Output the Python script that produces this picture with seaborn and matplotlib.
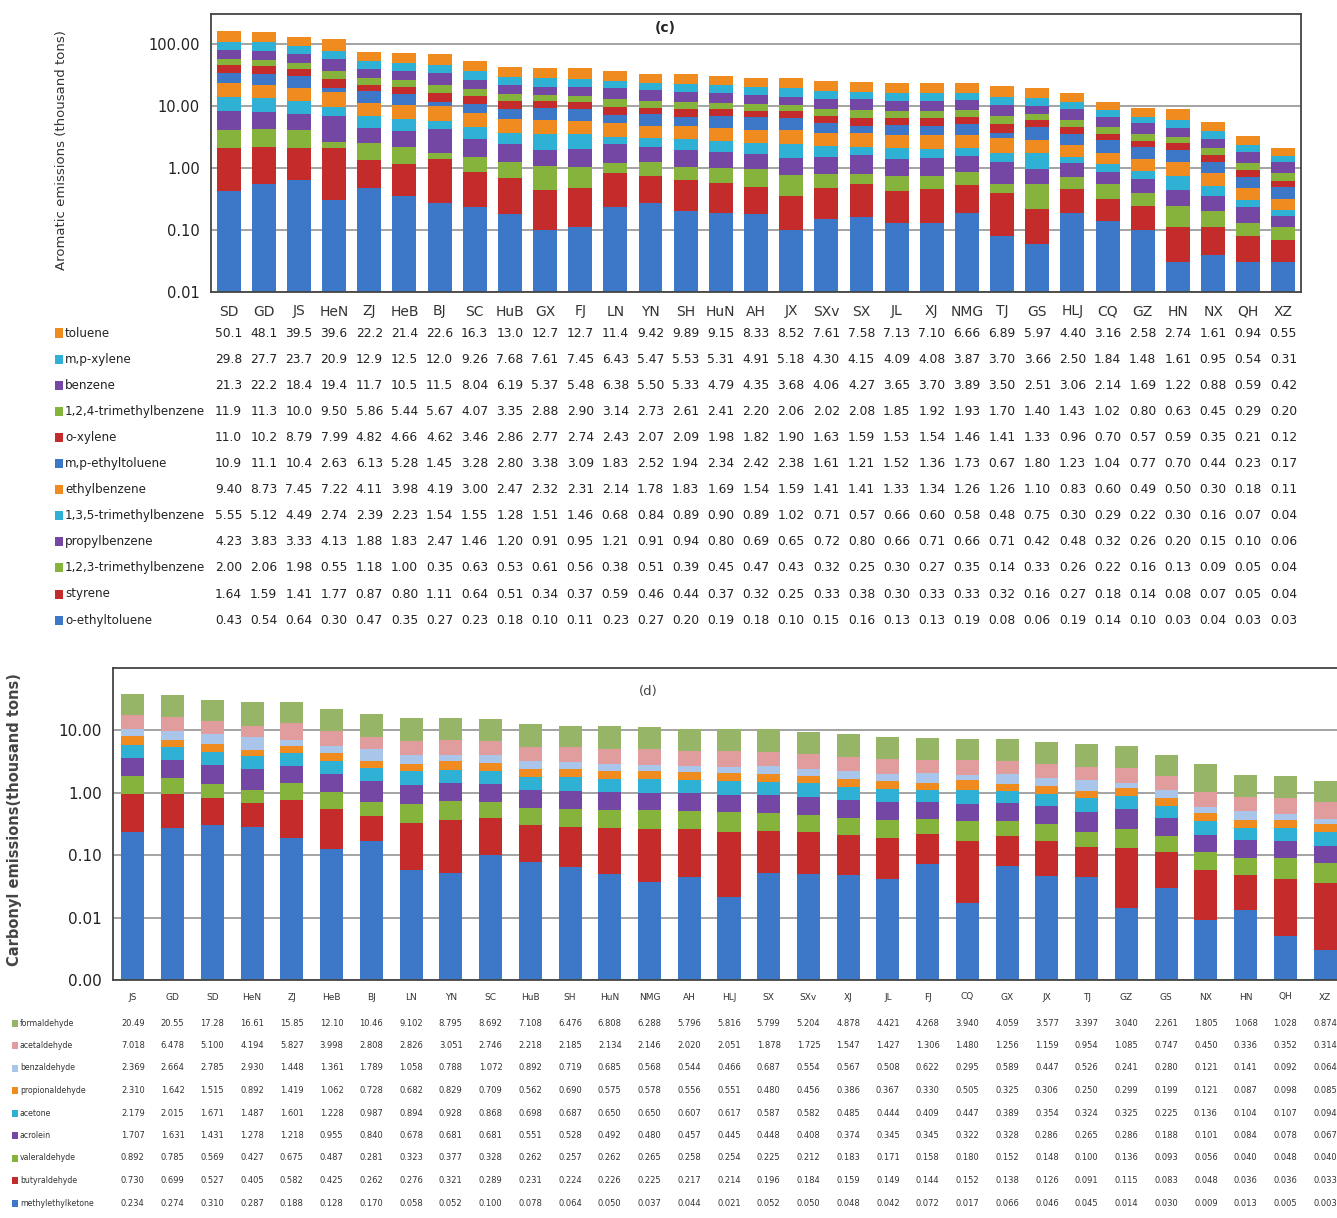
import matplotlib
matplotlib.use("Agg")
import numpy as np
import pandas as pd
import matplotlib.pyplot as plt
import matplotlib.transforms as mtransforms
from matplotlib.patches import Rectangle
from matplotlib.ticker import FixedLocator, FuncFormatter, NullLocator
import seaborn as sns

# ---- panel (c): aromatics ----
provinces_c = ["SD", "GD", "JS", "HeN", "ZJ", "HeB", "BJ", "SC", "HuB", "GX", "FJ",
               "LN", "YN", "SH", "HuN", "AH", "JX", "SXv", "SX", "JL", "XJ", "NMG",
               "TJ", "GS", "HLJ", "CQ", "GZ", "HN", "NX", "QH", "XZ"]

toluene = [50.1, 48.1, 39.5, 39.6, 22.2, 21.4, 22.6, 16.3, 13.0, 12.7, 12.7, 11.4, 9.42, 9.89, 9.15, 8.33,
           8.52, 7.61, 7.58, 7.13, 7.10, 6.66, 6.89, 5.97, 4.40, 3.16, 2.58, 2.74, 1.61, 0.94, 0.55]
mp_xylene = [29.8, 27.7, 23.7, 20.9, 12.9, 12.5, 12.0, 9.26, 7.68, 7.61, 7.45, 6.43, 5.47, 5.53, 5.31, 4.91,
             5.18, 4.30, 4.15, 4.09, 4.08, 3.87, 3.70, 3.66, 2.50, 1.84, 1.48, 1.61, 0.95, 0.54, 0.31]
benzene = [21.3, 22.2, 18.4, 19.4, 11.7, 10.5, 11.5, 8.04, 6.19, 5.37, 5.48, 6.38, 5.50, 5.33, 4.79, 4.35,
           3.68, 4.06, 4.27, 3.65, 3.70, 3.89, 3.50, 2.51, 3.06, 2.14, 1.69, 1.22, 0.88, 0.59, 0.42]
tmb_124 = [11.9, 11.3, 10.0, 9.50, 5.86, 5.44, 5.67, 4.07, 3.35, 2.88, 2.90, 3.14, 2.73, 2.61, 2.41, 2.20,
           2.06, 2.02, 2.08, 1.85, 1.92, 1.93, 1.70, 1.40, 1.43, 1.02, 0.80, 0.63, 0.45, 0.29, 0.20]
o_xylene = [11.0, 10.2, 8.79, 7.99, 4.82, 4.66, 4.62, 3.46, 2.86, 2.77, 2.74, 2.43, 2.07, 2.09, 1.98, 1.82,
            1.90, 1.63, 1.59, 1.53, 1.54, 1.46, 1.41, 1.33, 0.96, 0.70, 0.57, 0.59, 0.35, 0.21, 0.12]
mp_ethyltoluene = [10.9, 11.1, 10.4, 2.63, 6.13, 5.28, 1.45, 3.28, 2.80, 3.38, 3.09, 1.83, 2.52, 1.94, 2.34, 2.42,
                   2.38, 1.61, 1.21, 1.52, 1.36, 1.73, 0.67, 1.80, 1.23, 1.04, 0.77, 0.70, 0.44, 0.23, 0.17]
ethylbenzene = [9.40, 8.73, 7.45, 7.22, 4.11, 3.98, 4.19, 3.00, 2.47, 2.32, 2.31, 2.14, 1.78, 1.83, 1.69, 1.54,
                1.59, 1.41, 1.41, 1.33, 1.34, 1.26, 1.26, 1.10, 0.83, 0.60, 0.49, 0.50, 0.30, 0.18, 0.11]
tmb_135 = [5.55, 5.12, 4.49, 2.74, 2.39, 2.23, 1.54, 1.55, 1.28, 1.51, 1.46, 0.68, 0.84, 0.89, 0.90, 0.89,
           1.02, 0.71, 0.57, 0.66, 0.60, 0.58, 0.48, 0.75, 0.30, 0.29, 0.22, 0.30, 0.16, 0.07, 0.04]
propylbenzene = [4.23, 3.83, 3.33, 4.13, 1.88, 1.83, 2.47, 1.46, 1.20, 0.91, 0.95, 1.21, 0.91, 0.94, 0.80, 0.69,
                 0.65, 0.72, 0.80, 0.66, 0.71, 0.66, 0.71, 0.42, 0.48, 0.32, 0.26, 0.20, 0.15, 0.10, 0.06]
tmb_123 = [2.00, 2.06, 1.98, 0.55, 1.18, 1.00, 0.35, 0.63, 0.53, 0.61, 0.56, 0.38, 0.51, 0.39, 0.45, 0.47,
           0.43, 0.32, 0.25, 0.30, 0.27, 0.35, 0.14, 0.33, 0.26, 0.22, 0.16, 0.13, 0.09, 0.05, 0.04]
styrene = [1.64, 1.59, 1.41, 1.77, 0.87, 0.80, 1.11, 0.64, 0.51, 0.34, 0.37, 0.59, 0.46, 0.44, 0.37, 0.32,
           0.25, 0.33, 0.38, 0.30, 0.33, 0.33, 0.32, 0.16, 0.27, 0.18, 0.14, 0.08, 0.07, 0.05, 0.04]
o_ethyltoluene = [0.43, 0.54, 0.64, 0.30, 0.47, 0.35, 0.27, 0.23, 0.18, 0.10, 0.11, 0.23, 0.27, 0.20, 0.19, 0.18,
                  0.10, 0.15, 0.16, 0.13, 0.13, 0.19, 0.08, 0.06, 0.19, 0.14, 0.10, 0.03, 0.04, 0.03, 0.03]

# table order (top row first)
aromatic_names = ["toluene", "m,p-xylene", "benzene", "1,2,4-trimethylbenzene", "o-xylene",
                  "m,p-ethyltoluene", "ethylbenzene", "1,3,5-trimethylbenzene", "propylbenzene",
                  "1,2,3-trimethylbenzene", "styrene", "o-ethyltoluene"]
aromatic_series = [toluene, mp_xylene, benzene, tmb_124, o_xylene, mp_ethyltoluene, ethylbenzene,
                   tmb_135, propylbenzene, tmb_123, styrene, o_ethyltoluene]

# ---- panel (d): carbonyls ----
provinces_d = ["JS", "GD", "SD", "HeN", "ZJ", "HeB", "BJ", "LN", "YN", "SC", "HuB", "SH", "HuN",
               "NMG", "AH", "HLJ", "SX", "SXv", "XJ", "JL", "FJ", "CQ", "GX", "JX", "TJ", "GZ",
               "GS", "NX", "HN", "QH", "XZ"]

formaldehyde = [20.49, 20.55, 17.28, 16.61, 15.85, 12.10, 10.46, 9.102, 8.795, 8.692, 7.108, 6.476, 6.808,
                6.288, 5.796, 5.816, 5.799, 5.204, 4.878, 4.421, 4.268, 3.940, 4.059, 3.577, 3.397, 3.040,
                2.261, 1.805, 1.068, 1.028, 0.874]
acetaldehyde = [7.018, 6.478, 5.100, 4.194, 5.827, 3.998, 2.808, 2.826, 3.051, 2.746, 2.218, 2.185, 2.134,
                2.146, 2.020, 2.051, 1.878, 1.725, 1.547, 1.427, 1.306, 1.480, 1.256, 1.159, 0.954, 1.085,
                0.747, 0.450, 0.336, 0.352, 0.314]
benzaldehyde = [2.369, 2.664, 2.785, 2.930, 1.448, 1.361, 1.789, 1.058, 0.788, 1.072, 0.892, 0.719, 0.685,
                0.568, 0.544, 0.466, 0.687, 0.554, 0.567, 0.508, 0.622, 0.295, 0.589, 0.447, 0.526, 0.241,
                0.280, 0.121, 0.141, 0.092, 0.064]
propionaldehyde = [2.310, 1.642, 1.515, 0.892, 1.419, 1.062, 0.728, 0.682, 0.829, 0.709, 0.562, 0.690, 0.575,
                   0.578, 0.556, 0.551, 0.480, 0.456, 0.386, 0.367, 0.330, 0.505, 0.325, 0.306, 0.250, 0.299,
                   0.199, 0.121, 0.087, 0.098, 0.085]
acetone = [2.179, 2.015, 1.671, 1.487, 1.601, 1.228, 0.987, 0.894, 0.928, 0.868, 0.698, 0.687, 0.650,
           0.650, 0.607, 0.617, 0.587, 0.582, 0.485, 0.444, 0.409, 0.447, 0.389, 0.354, 0.324, 0.325,
           0.225, 0.136, 0.104, 0.107, 0.094]
acrolein = [1.707, 1.631, 1.431, 1.278, 1.218, 0.955, 0.840, 0.678, 0.681, 0.681, 0.551, 0.528, 0.492,
            0.480, 0.457, 0.445, 0.448, 0.408, 0.374, 0.345, 0.345, 0.322, 0.328, 0.286, 0.265, 0.286,
            0.188, 0.101, 0.084, 0.078, 0.067]
valeraldehyde = [0.892, 0.785, 0.569, 0.427, 0.675, 0.487, 0.281, 0.323, 0.377, 0.328, 0.262, 0.257, 0.262,
                 0.265, 0.258, 0.254, 0.225, 0.212, 0.183, 0.171, 0.158, 0.180, 0.152, 0.148, 0.100, 0.136,
                 0.093, 0.056, 0.040, 0.048, 0.040]
butyraldehyde = [0.730, 0.699, 0.527, 0.405, 0.582, 0.425, 0.262, 0.276, 0.321, 0.289, 0.231, 0.224, 0.226,
                 0.225, 0.217, 0.214, 0.196, 0.184, 0.159, 0.149, 0.144, 0.152, 0.138, 0.126, 0.091, 0.115,
                 0.083, 0.048, 0.036, 0.036, 0.033]
methylethylketone = [0.234, 0.274, 0.310, 0.287, 0.188, 0.128, 0.170, 0.058, 0.052, 0.100, 0.078, 0.064, 0.050,
                     0.037, 0.044, 0.021, 0.052, 0.050, 0.048, 0.042, 0.072, 0.017, 0.066, 0.046, 0.045, 0.014,
                     0.030, 0.009, 0.013, 0.005, 0.003]

carbonyl_names = ["formaldehyde", "acetaldehyde", "benzaldehyde", "propionaldehyde", "acetone",
                  "acrolein", "valeraldehyde", "butyraldehyde", "methylethylketone"]
carbonyl_series = [formaldehyde, acetaldehyde, benzaldehyde, propionaldehyde, acetone, acrolein,
                   valeraldehyde, butyraldehyde, methylethylketone]

BLUE, RED, GREEN, PURPLE, CYAN, ORANGE = "#3d77c7", "#c42b2b", "#86b33c", "#7447a5", "#2fb1d5", "#f08c1f"
aromatic_colors = [ORANGE, CYAN, PURPLE, GREEN, RED, BLUE, ORANGE, CYAN, PURPLE, GREEN, RED, BLUE]
carbonyl_colors = ["#97b566", "#e19c9d", "#a9c6ea", ORANGE, CYAN, PURPLE, GREEN, RED, BLUE]

W, H = 1337, 1218


def fy(ypix):
    return 1 - ypix / H


def stacked_log_bars(ax, provinces, names, series, colors, width):
    # names/series listed top row first -> stack bottom is the last one
    df = pd.DataFrame(dict(zip(names, series)), index=provinces)
    cum = df[names[::-1]].cumsum(axis=1)
    for name, color in zip(names, colors):
        sns.barplot(x=provinces, y=cum[name].values, order=provinces, color=color,
                    saturation=1, width=width, linewidth=0, errorbar=None, ax=ax)


sns.set_theme(style="white")
plt.rcParams["font.family"] = ["DejaVu Sans"]

fig = plt.figure(figsize=(W / 100, H / 100), dpi=100)

# ---- panel (c) ----
ax_c = fig.add_axes([211 / W, fy(292), (1301 - 211) / W, (292 - 14) / H])
stacked_log_bars(ax_c, provinces_c, aromatic_names, aromatic_series, aromatic_colors, 0.68)
ax_c.set_yscale("log")
ax_c.set_ylim(0.01, 300)
ax_c.set_xlim(-0.5, len(provinces_c) - 0.5)

# ---- panel (d) ----
ax_d = fig.add_axes([113 / W, fy(980), (1345 - 113) / W, (980 - 668) / H])
stacked_log_bars(ax_d, provinces_d, carbonyl_names, carbonyl_series, carbonyl_colors, 0.58)
ax_d.set_yscale("log")
ax_d.set_ylim(0.001, 100)
ax_d.set_xlim(-0.5, len(provinces_d) - 0.5)

for ax, ticks, lsize, xsize in [(ax_c, [0.01, 0.1, 1, 10, 100], 10.5, 10),
                                (ax_d, [0.001, 0.01, 0.1, 1, 10], 11, 6.5)]:
    ax.yaxis.set_major_locator(FixedLocator(ticks))
    ax.yaxis.set_minor_locator(NullLocator())
    ax.yaxis.set_major_formatter(FuncFormatter(lambda v, p: f"{max(v, 0.001):.2f}" if v >= 0.01 else "0.00"))
    ax.yaxis.grid(True, color="#8a8a8a", linewidth=1.1)
    ax.set_axisbelow(True)
    ax.tick_params(axis="y", labelsize=lsize, length=0, pad=8, colors="#222222")
    ax.tick_params(axis="x", labelsize=xsize, length=0, pad=9, colors="#333333")
    ax.set_xlabel("")
    ax.set_ylabel("")
    for s in ax.spines.values():
        s.set_color("#444444")
        s.set_linewidth(1.3)

fig.text(62 / W, fy(150), "Aromatic emissions (thousand tons)", rotation=90, ha="center", va="center",
         fontsize=9.5, color="#333333")
fig.text(15 / W, fy(820), "Carbonyl emissions(thousand tons)", rotation=90, ha="center", va="center",
         fontsize=10.5, fontweight="bold", color="#444444")
fig.text(665 / W, fy(28), "(c)", ha="center", va="center", fontsize=10, fontweight="bold")
fig.text(648 / W, fy(692), "(d)", ha="center", va="center", fontsize=9.5, color="#444444")

# ---- data table (c) ----
trans_c = mtransforms.blended_transform_factory(ax_c.transData, fig.transFigure)
for i, (name, vals, color) in enumerate(zip(aromatic_names, aromatic_series, aromatic_colors)):
    ypix = 333 + i * 26.1
    fig.add_artist(Rectangle((55 / W, fy(ypix + 4.5)), 8 / W, 9 / H, transform=fig.transFigure,
                             facecolor=color, edgecolor="none"))
    fig.text(65 / W, fy(ypix), name, ha="left", va="center", fontsize=8.6, color="#222222")
    for j, v in enumerate(vals):
        txt = f"{v:.1f}" if v >= 10 else f"{v:.2f}"
        ax_c.text(j, fy(ypix), txt, transform=trans_c, ha="center", va="center",
                  fontsize=8.8, color="#222222")

# ---- data table (d) ----
trans_d = mtransforms.blended_transform_factory(ax_d.transData, fig.transFigure)
for i, (name, vals, color) in enumerate(zip(carbonyl_names, carbonyl_series, carbonyl_colors)):
    ypix = 1023 + i * 22.5
    fig.add_artist(Rectangle((12 / W, fy(ypix + 3.5)), 6 / W, 7 / H, transform=fig.transFigure,
                             facecolor=color, edgecolor="none"))
    fig.text(20 / W, fy(ypix), name, ha="left", va="center", fontsize=5.6, color="#333333")
    for j, v in enumerate(vals):
        txt = f"{v:.2f}" if v >= 10 else f"{v:.3f}"
        ax_d.text(j, fy(ypix), txt, transform=trans_d, ha="center", va="center",
                  fontsize=6, color="#333333")

fig.savefig("out.png", dpi=100)
